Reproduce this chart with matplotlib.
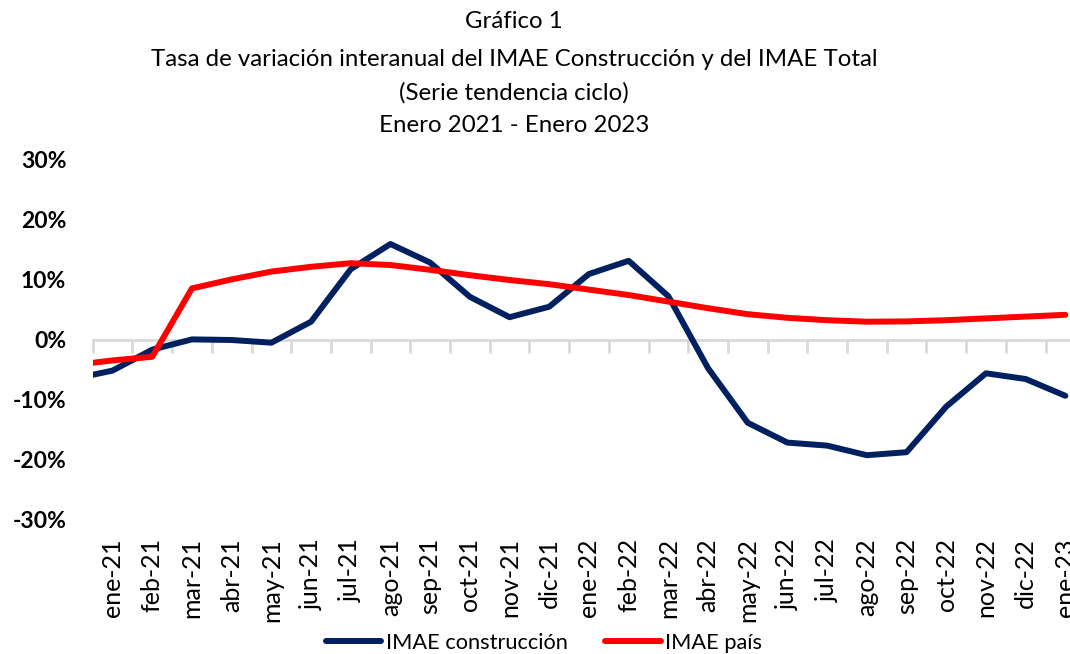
import matplotlib
matplotlib.use("Agg")
import matplotlib.pyplot as plt
import numpy as np
from matplotlib.ticker import FuncFormatter

plt.rcParams['font.family'] = ['Lato', 'DejaVu Sans']

# Data (first entry, dic-20, lies just left of the visible range)
months = ['dic-20', 'ene-21', 'feb-21', 'mar-21', 'abr-21', 'may-21', 'jun-21', 'jul-21',
          'ago-21', 'sep-21', 'oct-21', 'nov-21', 'dic-21', 'ene-22', 'feb-22',
          'mar-22', 'abr-22', 'may-22', 'jun-22', 'jul-22', 'ago-22', 'sep-22',
          'oct-22', 'nov-22', 'dic-22', 'ene-23']
imae_construccion = [-6.5, -5.1, -1.6, 0.1, 0.0, -0.45, 3.05, 11.8, 16.0, 12.9, 7.2,
                     3.8, 5.55, 11.0, 13.2, 7.3, -4.7, -13.8, -17.1, -17.6, -19.2,
                     -18.7, -11.1, -5.55, -6.5, -9.3]
imae_pais = [-4.2, -3.4, -2.8, 8.6, 10.1, 11.4, 12.2, 12.8, 12.5, 11.7, 10.8, 10.0,
             9.3, 8.4, 7.5, 6.4, 5.3, 4.3, 3.7, 3.3, 3.05, 3.1, 3.3, 3.6, 3.9, 4.2]
yticks = [-30, -20, -10, 0, 10, 20, 30]
title_lines = ['Gráfico 1',
               'Tasa de variación interanual del IMAE Construcción y del IMAE Total',
               '(Serie tendencia ciclo)',
               'Enero 2021 - Enero 2023']

W, H = 1070, 654
fig = plt.figure(figsize=(W / 100, H / 100), dpi=100)
left_px, right_px, top_px, bot_px = 92.7, 1085.2, 160, 520
ax = fig.add_axes([left_px / W, 1 - bot_px / H, (right_px - left_px) / W, (bot_px - top_px) / H])

x = np.arange(len(months)) - 1
ax.plot(x, imae_construccion, color='#002060', lw=4.3, solid_capstyle='round',
        solid_joinstyle='round', label='IMAE construcción', zorder=3)
ax.plot(x, imae_pais, color='#FF0000', lw=4.3, solid_capstyle='round',
        solid_joinstyle='round', label='IMAE país', zorder=4)

ax.set_xlim(-0.5, len(months) - 1.5)
ax.set_ylim(-30, 30)

for s in ['top', 'right', 'left']:
    ax.spines[s].set_visible(False)
ax.spines['bottom'].set_position(('data', 0))
ax.spines['bottom'].set_color('#d9d9d9')
ax.spines['bottom'].set_linewidth(2)
ax.set_xticks(np.arange(-0.5, len(months) - 1, 1))
ax.tick_params(axis='x', direction='out', length=9, width=2, color='#d9d9d9', labelbottom=False)

ax.set_yticks(yticks)
ax.yaxis.set_major_formatter(FuncFormatter(lambda v, p: f'{v:.0f}%'))
ax.tick_params(axis='y', length=0, pad=19, labelsize=16.5)
for lab in ax.get_yticklabels():
    lab.set_fontweight('bold')

sec = ax.secondary_xaxis('bottom')
sec.set_xticks(x[1:], months[1:])
sec.tick_params(length=0, pad=13, labelsize=18, labelrotation=90)
sec.spines['bottom'].set_visible(False)

ys = [21, 59, 93, 126]
for t, yy in zip(title_lines, ys):
    fig.text(514 / W, 1 - yy / H, t, ha='center', va='center', fontsize=17.3)

fig.legend(loc='center', bbox_to_anchor=(544 / W, 1 - 643 / H), ncol=2, frameon=False,
           fontsize=15.7, handlelength=2.55, handletextpad=0.22, columnspacing=1.7)

fig.savefig('out.png', dpi=100)
